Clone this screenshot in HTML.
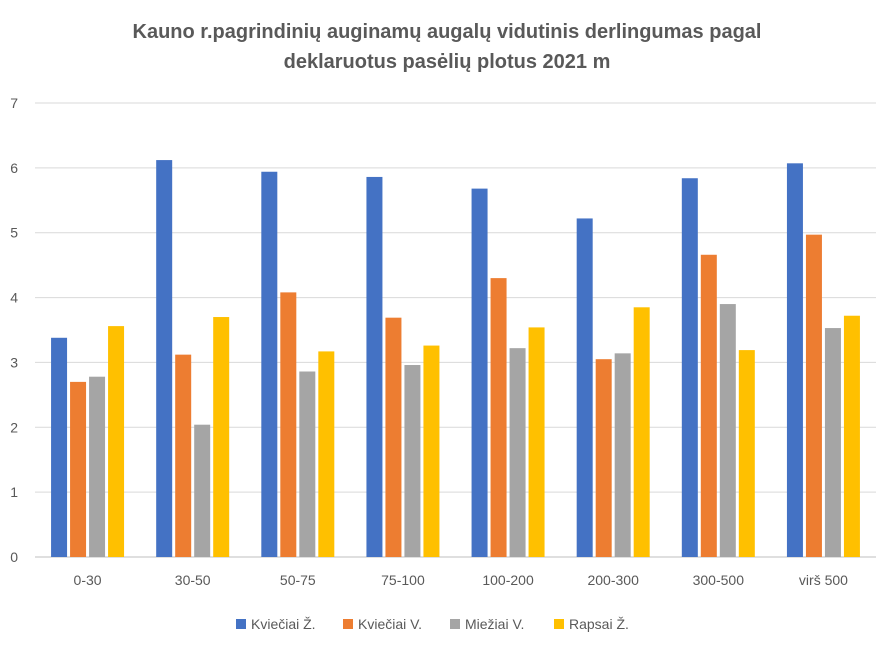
<!DOCTYPE html>
<html><head><meta charset="utf-8">
<style>
body{margin:0;background:#fff;font-family:"Liberation Sans",sans-serif;}
svg text{font-family:"Liberation Sans",sans-serif;}
</style></head>
<body>
<svg id="chart" width="886" height="640" xmlns="http://www.w3.org/2000/svg">
<text x="447" y="38" text-anchor="middle" font-size="20" font-weight="bold" fill="#595959">Kauno r.pagrindinių auginamų augalų vidutinis derlingumas pagal</text>
<text x="447" y="68" text-anchor="middle" font-size="20" font-weight="bold" fill="#595959">deklaruotus pasėlių plotus 2021 m</text>
<g id="grid"></g><g id="bars"></g><g id="labels"></g><g id="legend"></g>
</svg>
<script>
const categories=["0-30","30-50","50-75","75-100","100-200","200-300","300-500","virš 500"];
const seriesNames=["Kviečiai Ž.","Kviečiai V.","Miežiai V.","Rapsai Ž."];
const kvieciaiZ=[3.38,6.12,5.94,5.86,5.68,5.22,5.84,6.07];
const kvieciaiV=[2.70,3.12,4.08,3.69,4.30,3.05,4.66,4.97];
const miezaiV=[2.78,2.04,2.86,2.96,3.22,3.14,3.90,3.53];
const rapsaiZ=[3.56,3.70,3.17,3.26,3.54,3.85,3.19,3.72];
const yTicks=[0,1,2,3,4,5,6,7];
const colors=["#4472C4","#ED7D31","#A5A5A5","#FFC000"];
const series=[kvieciaiZ,kvieciaiV,miezaiV,rapsaiZ];
const NS="http://www.w3.org/2000/svg";
const plotLeft=35,plotRight=876,plotTop=103,plotBottom=557,yMax=7;
const yScale=v=>plotBottom-(v/yMax)*(plotBottom-plotTop);
const band=(plotRight-plotLeft)/categories.length;
const bw=16,gap=3;
const xScale=(i,s)=>plotLeft+band*i+band/2-(4*bw+3*gap)/2+s*(bw+gap);
function mk(t,a,p){const e=document.createElementNS(NS,t);for(const k in a)e.setAttribute(k,a[k]);p.appendChild(e);return e;}
const gridG=document.getElementById('grid'),barsG=document.getElementById('bars'),labelsG=document.getElementById('labels'),legendG=document.getElementById('legend');
yTicks.forEach(t=>{
 const l=mk('line',{x1:plotLeft,x2:plotRight,y1:yScale(t),y2:yScale(t),stroke:t===0?'#BFBFBF':'#D9D9D9','stroke-width':1},gridG);
 
 
 const tx=mk('text',{x:18,y:yScale(t)+5,'text-anchor':'end','font-size':14,fill:'#595959'},labelsG);
 tx.textContent=t;
 
 
});
categories.forEach((c,i)=>{
 series.forEach((s,j)=>{
  const r=mk('rect',{x:xScale(i,j),y:yScale(s[i]),width:bw,height:plotBottom-yScale(s[i]),fill:colors[j]},barsG);
  
  
 });
 const tx=mk('text',{x:plotLeft+band*i+band/2,y:585,'text-anchor':'middle','font-size':14,fill:'#595959'},labelsG);
 tx.textContent=c;
 
 
});
const lx=[236,343,450,554];
seriesNames.forEach((n,j)=>{
 const g=mk('g',{},legendG);
 
 
 mk('rect',{x:lx[j],y:619,width:10,height:10,fill:colors[j]},g);
 const t=mk('text',{x:lx[j]+15,y:629,'font-size':14,fill:'#595959'},g);
 t.textContent=n;
});
</script>
</body></html>
